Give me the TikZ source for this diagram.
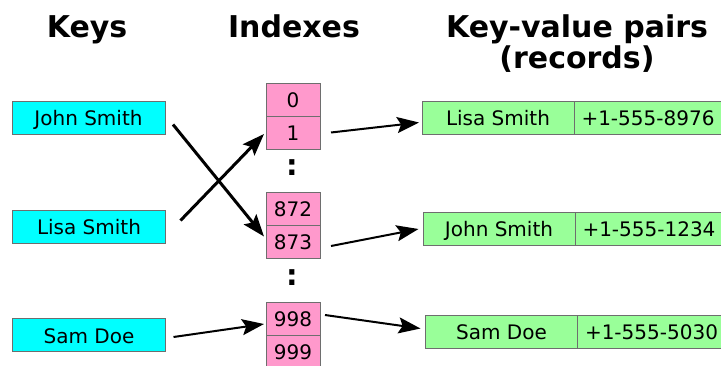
\documentclass[tikz,border=0pt]{standalone}
\usepackage{fontspec}
\setmainfont{DejaVu Sans}
\usepackage{xcolor}
\definecolor{KeyCyan}{RGB}{0,255,255}
\definecolor{IdxPink}{RGB}{255,153,204}
\definecolor{RecGreen}{RGB}{153,255,153}
\definecolor{EdgeGray}{RGB}{110,110,110}
\usetikzlibrary{positioning}
\usetikzlibrary{arrows.meta}

\begin{document}
\begin{tikzpicture}[
    x = 1pt, y = -1pt
    , cell/.style = {
      , rectangle
      , draw = EdgeGray
      , line width = 0.8pt
      , outer sep = 0pt
      , inner sep = 0pt
      , minimum height = 33pt
      , text height = 16pt
      , text depth = 0pt
      , font = \fontsize{20}{24}\selectfont
    }
    , key/.style = {
      cell,
      minimum width = 153pt,
      fill = KeyCyan
    }
    , idx/.style = {
      cell,
      minimum width = 54pt,
      fill = IdxPink
    }
    , rec/.style = {
      cell,
      minimum width = 152pt,
      fill = RecGreen
    }
    , tel/.style = {
      rec,
      minimum width = 148pt
    }
    , title/.style = {
      , anchor = base
      , align = center
      , font = \bfseries\fontsize{30}{31}\selectfont
    }
    , dots/.style = {
      , inner sep = 0pt
      , font = \bfseries\fontsize{29}{31}\selectfont
    }
    , hasharrow/.style = {
      , -{Stealth[length=22pt, width=16pt, inset=4pt]}
      , line width = 3pt
    }
    , recarrow/.style = {
      hasharrow,
      line width = 2pt
    }
    ]
    \clip (0,0) rectangle (721,365);

    \node[title] (tKeys) at (87,37) {Keys};
    \node[title] (tIdx) at (294,37) {Indexes};
    \node[title] (tRec) at (577,68) {Key-value pairs\\(records)};

    % keys
    \node[key] (keyJohn) at (88.5,117.5) {John Smith};
    \node[key] (keyLisa) at (89,226.5) {Lisa Smith};
    \node[key] (keySam) at (89,335) {Sam Doe};

    % buckets
    \node[idx] (i0) at (293,99.5) {0};
    \node[idx, below = 0pt of i0] (i1) {1};
    \node[dots] (gap1) at (292,168) {:};
    \node[idx] (i872) at (293,208.5) {872};
    \node[idx, below = 0pt of i872] (i873) {873};
    \node[dots] (gap2) at (292,278) {:};
    \node[idx] (i998) at (293,318.5) {998};
    \node[idx, below = 0pt of i998] (i999) {999};

    % records
    \node[rec] (recLisa) at (498,117.5) {Lisa Smith};
    \node[tel, right = 0pt of recLisa] (telLisa) {+1-555-8976};
    \node[rec] (recJohn) at (499,228.5) {John Smith};
    \node[tel, right = 0pt of recJohn] (telJohn) {+1-555-1234};
    \node[rec] (recSam) at (501.5,331.5) {Sam Doe};
    \node[tel, right = 0pt of recSam] (telSam) {+1-555-5030};

    \draw[hasharrow] ([shift={(8,7)}]keyJohn.east) -- ([shift={(-2,-5)}]i873.west);
    \draw[hasharrow] ([shift={(15,-6)}]keyLisa.east) -- ([shift={(-2,1.5)}]i1.west);
    \draw[recarrow] ([shift={(8,2)}]keySam.east) -- ([shift={(-2,5.5)}]i998.west);

    \draw[recarrow] ([shift={(11,0)}]i1.east) -- ([shift={(-3,5)}]recLisa.west);
    \draw[recarrow] ([shift={(11,4.5)}]i873.east) -- ([shift={(-4.5,0.5)}]recJohn.west);
    \draw[recarrow] ([shift={(5,-3.5)}]i998.east) -- ([shift={(-5,-3)}]recSam.west);
  \end{tikzpicture}
\end{document}
